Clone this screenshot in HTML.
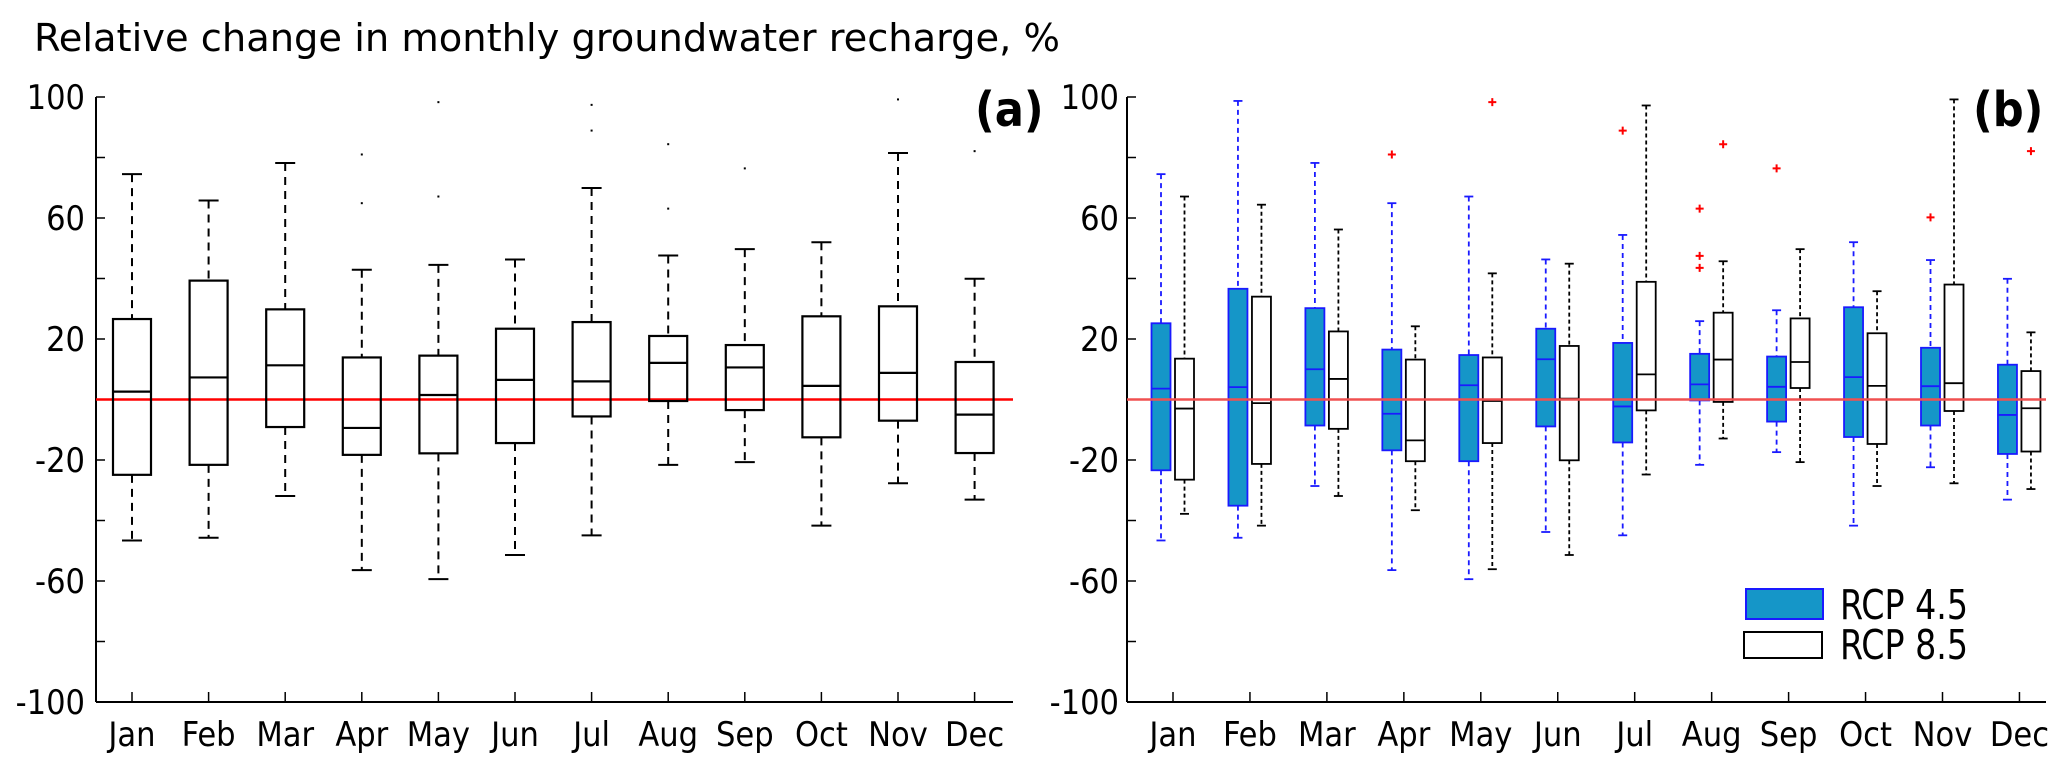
<!DOCTYPE html>
<html><head><meta charset="utf-8">
<style>
html,body{margin:0;padding:0;background:#fff;}
svg{display:block;}
text{font-family:"DejaVu Sans Condensed","DejaVu Sans","Liberation Sans",sans-serif;fill:#000;}
</style></head>
<body>
<svg id="chart" width="2067" height="777" viewBox="0 0 2067 777" xmlns="http://www.w3.org/2000/svg">
<text x="34" y="51" font-size="38" textLength="1026" lengthAdjust="spacingAndGlyphs">Relative change in monthly groundwater recharge, %</text>
<text x="975" y="126" font-size="48" font-weight="bold" font-family="Liberation Sans, sans-serif">(a)</text>
<text x="1973" y="126" font-size="48" font-weight="bold" font-family="Liberation Sans, sans-serif">(b)</text>
<g id="pa"></g>
<g id="pb"></g>
<g>
<rect x="1746" y="589" width="77" height="30" fill="#1596c8" stroke="#1a1aff" stroke-width="2"/>
<text x="1840" y="619" font-size="41" textLength="128" lengthAdjust="spacingAndGlyphs">RCP 4.5</text>
<rect x="1744" y="632" width="78" height="26" fill="#fff" stroke="#000" stroke-width="2"/>
<text x="1840" y="659" font-size="41" textLength="128" lengthAdjust="spacingAndGlyphs">RCP 8.5</text>
</g>
</svg>
<script>
const months = ["Jan","Feb","Mar","Apr","May","Jun","Jul","Aug","Sep","Oct","Nov","Dec"];
const yTicks = [100,80,60,40,20,0,-20,-40,-60,-80,-100];
const yLabels = ["100","","60","","20","","-20","","-60","","-100"];
// Panel (a)
const aLow  = [-46.6,-45.7,-31.9,-56.4,-59.4,-51.4,-44.9,-21.6,-20.7,-41.7,-27.7,-33.1];
const aQ1   = [-24.9,-21.6,-9.1,-18.3,-17.8,-14.4,-5.6,-0.5,-3.5,-12.5,-7.0,-17.7];
const aMed  = [2.6,7.3,11.3,-9.4,1.5,6.5,6.0,12.1,10.6,4.5,8.8,-5.0];
const aQ3   = [26.6,39.3,29.8,13.9,14.5,23.4,25.6,21.0,18.0,27.5,30.8,12.4];
const aHigh = [74.5,65.8,78.2,42.9,44.5,46.3,69.9,47.6,49.7,52.0,81.5,39.9];
const aOut  = [[],[],[],[81,64.9],[98.3,67.1],[],[97.4,88.9],[84.4,63.1],[76.4],[],[99.2],[82.1]];
// Panel (b) RCP 4.5
const bLow  = [-46.6,-45.7,-28.6,-56.4,-59.4,-43.8,-44.9,-21.6,-17.4,-41.7,-22.4,-33.1];
const bQ1   = [-23.4,-35.1,-8.6,-16.8,-20.4,-8.9,-14.2,-0.3,-7.3,-12.4,-8.6,-18.0];
const bMed  = [3.6,4.1,10.0,-4.7,4.7,13.3,-2.3,5.0,4.2,7.4,4.4,-5.1];
const bQ3   = [25.2,36.6,30.2,16.5,14.7,23.4,18.7,15.1,14.2,30.5,17.1,11.5];
const bHigh = [74.5,98.7,78.2,64.9,67.1,46.3,54.4,25.9,29.5,52.0,46.1,39.9];
const bOut  = [[],[],[],[81],[],[],[88.9],[63.1,47.5,43.5],[76.4],[],[60.2],[]];
// Panel (b) RCP 8.5
const cLow  = [-37.8,-41.7,-31.9,-36.6,-56.1,-51.4,-24.8,-12.9,-20.7,-28.6,-27.7,-29.6];
const cQ1   = [-26.5,-21.3,-9.7,-20.4,-14.4,-20.1,-3.6,-0.8,3.8,-14.7,-3.8,-17.2];
const cMed  = [-3.0,-1.2,6.8,-13.5,-0.5,0.3,8.3,13.2,12.4,4.5,5.4,-2.9];
const cQ3   = [13.5,34.0,22.5,13.2,13.9,17.7,38.9,28.7,26.8,21.9,38.0,9.4];
const cHigh = [67.1,64.4,56.2,24.2,41.7,44.9,97.2,45.7,49.7,35.8,99.2,22.2];
const cOut  = [[],[],[],[],[98.3],[],[],[84.4],[],[],[],[82.1]];

const NS = "http://www.w3.org/2000/svg";
const y = v => 399.5 - v * 3.025;
const xa = i => 132 + i * 76.6;
const xb = i => 1173 + i * 76.95;

function mk(parent, tag, attrs) {
  const e = document.createElementNS(NS, tag);
  for (const k in attrs) e.setAttribute(k, attrs[k]);
  parent.appendChild(e);
  return e;
}

function axes(g, x0, x1, xf, labelRight, prefix) {
  let e = mk(g, "line", {x1:x0, y1:y(100), x2:x0, y2:y(-100), stroke:"#000", "stroke-width":2});
  
  
  e = mk(g, "line", {x1:x0, y1:y(-100), x2:x1, y2:y(-100), stroke:"#000", "stroke-width":2});
  
  
  yTicks.forEach((v, i) => {
    const t = mk(g, "line", {x1:x0, y1:y(v), x2:x0 + 9, y2:y(v), stroke:"#000", "stroke-width":1.5});
    
    
    if (yLabels[i]) {
      const l = mk(g, "text", {x:labelRight, y:y(v) + 12, "font-size":34, "text-anchor":"end"});
      l.textContent = yLabels[i];
      
      
    }
  });
  months.forEach((m, i) => {
    const t = mk(g, "line", {x1:xf(i), y1:y(-100), x2:xf(i), y2:y(-100) - 10, stroke:"#000", "stroke-width":1.5});
    
    
    const l = mk(g, "text", {x:xf(i), y:746, "font-size":34, "text-anchor":"middle"});
    l.textContent = m;
    
    
  });
}

function box(g, cx, w, lo, q1, med, q3, hi, outs, st, name) {
  const grp = mk(g, "g", {});
  
  
  const cw = st.cap;
  mk(grp, "line", {x1:cx, y1:y(hi), x2:cx, y2:y(q3), stroke:st.wc, "stroke-width":st.ww, "stroke-dasharray":st.dash});
  mk(grp, "line", {x1:cx, y1:y(q1), x2:cx, y2:y(lo), stroke:st.wc, "stroke-width":st.ww, "stroke-dasharray":st.dash});
  mk(grp, "line", {x1:cx - cw/2, y1:y(hi), x2:cx + cw/2, y2:y(hi), stroke:st.cc, "stroke-width":st.ww});
  mk(grp, "line", {x1:cx - cw/2, y1:y(lo), x2:cx + cw/2, y2:y(lo), stroke:st.cc, "stroke-width":st.ww});
  mk(grp, "rect", {x:cx - w/2, y:y(q3), width:w, height:y(q1) - y(q3), fill:st.fill, stroke:st.bc, "stroke-width":st.bw});
  mk(grp, "line", {x1:cx - w/2, y1:y(med), x2:cx + w/2, y2:y(med), stroke:st.mc, "stroke-width":st.bw});
  outs.forEach(o => {
    if (st.plus) {
      mk(grp, "path", {d:`M${cx-4} ${y(o)}H${cx+4}M${cx} ${y(o)-4}V${y(o)+4}`, stroke:"#f00", "stroke-width":2});
    } else {
      mk(grp, "rect", {x:cx - 1, y:y(o) - 1, width:2, height:2, fill:"#000"});
    }
  });
}

const pa = document.getElementById("pa");
const pb = document.getElementById("pb");

axes(pa, 96, 1013, xa, 85, "panel-a");
const za = mk(pa, "line", {x1:96, y1:y(0), x2:1013, y2:y(0), stroke:"#f00", "stroke-width":2.5});


const stA = {wc:"#000", ww:2, dash:"8 6", cap:20, cc:"#000", fill:"none", bc:"#000", bw:2.2, mc:"#000", plus:false};
months.forEach((m, i) => {
  box(pa, xa(i), 38, aLow[i], aQ1[i], aMed[i], aQ3[i], aHigh[i], aOut[i], stA, "panel-a-box-" + m.toLowerCase());
});

axes(pb, 1127, 2046, xb, 1119, "panel-b");
const stB = {wc:"#1a1aff", ww:1.8, dash:"5 4", cap:9, cc:"#1a1aff", fill:"#1596c8", bc:"#1a1aff", bw:1.8, mc:"#1a1aff", plus:true};
const stC = {wc:"#000", ww:1.8, dash:"4 3", cap:9, cc:"#000", fill:"#fff", bc:"#000", bw:1.8, mc:"#000", plus:true};
months.forEach((m, i) => {
  box(pb, xb(i) - 12, 19, bLow[i], bQ1[i], bMed[i], bQ3[i], bHigh[i], bOut[i], stB, "panel-b-rcp45-box-" + m.toLowerCase());
  box(pb, xb(i) + 11.5, 19, cLow[i], cQ1[i], cMed[i], cQ3[i], cHigh[i], cOut[i], stC, "panel-b-rcp85-box-" + m.toLowerCase());
});
const zb = mk(pb, "line", {x1:1127, y1:y(0), x2:2046, y2:y(0), stroke:"#f05050", "stroke-width":2.5});


</script>
</body></html>
